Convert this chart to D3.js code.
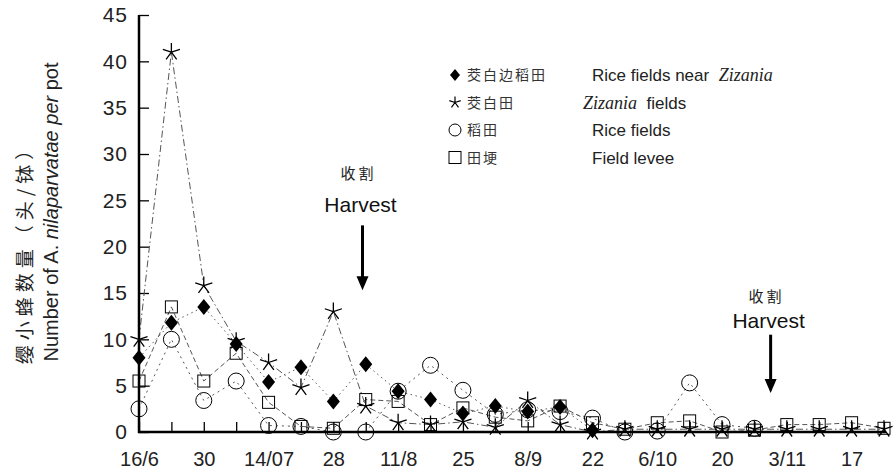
<!DOCTYPE html>
<html><head><meta charset="utf-8">
<script src="https://cdn.jsdelivr.net/npm/d3@7"></script>
<style>
body{margin:0;background:#fff;}
svg{display:block;}
</style></head>
<body>
<svg id="chart" width="894" height="475"></svg>
<script>
// ---- data ----
const dates = ["16/6","23/6","30/6","7/7","14/7","21/7","28/7","4/8","11/8","18/8","25/8","1/9","8/9","15/9","22/9","29/9","6/10","13/10","20/10","27/10","3/11","10/11","17/11","24/11"];
const tickLabels = ["16/6","","30","","14/07","","28","","11/8","","25","","8/9","","22","","6/10","","20","","3/11","","17",""];
const yTicks = [0,5,10,15,20,25,30,35,40,45];
const zizaniaFields = [10,41,15.8,9.8,7.5,4.8,13,2.8,1,0.8,1.1,0.5,3.4,0.8,0,0.3,0.3,0.3,0.3,0.3,0.3,0.3,0.3,0.3];
const nearZizania = [8,11.8,13.5,9.5,5.4,7,3.3,7.3,4.4,3.5,2,2.8,2.2,2.7,0.2,null,null,null,null,null,null,null,null,null];
const riceFields = [2.5,10,3.4,5.5,0.7,0.6,0,0,4.4,7.2,4.5,1.9,2.4,2.2,1.5,0,0.1,5.3,0.8,0.4,null,null,null,null];
const fieldLevee = [5.5,13.5,5.5,8.5,3.2,0.6,0.4,3.5,3.3,0.8,2.6,1.6,1.2,2.8,1.0,0.3,1.0,1.2,0,0.2,0.8,0.8,1.0,0.4];
const harvests = [{pos:6.9, top:22.3, bottom:15.3}, {pos:19.5, top:10.5, bottom:4.2}];
const harvestTextGap = [{cn:46, en:13}, {cn:33, en:7}];

const svg = d3.select("#chart");
const x = d3.scaleLinear().domain([0, dates.length-1]).range([139, 884]);
const y = d3.scaleLinear().domain([0, 45]).range([432, 15]);

// ---- markers ----
function drawMarker(g, type, cx, cy){
  if(type==="diamond"){
    g.append("path").attr("d",`M${cx},${cy-8}L${cx+6.5},${cy}L${cx},${cy+8}L${cx-6.5},${cy}Z`).attr("fill","#000");
  } else if(type==="star"){
    const r=9; let d="";
    for(let k=0;k<5;k++){const a=(-90+72*k)*Math.PI/180; d+=`M${cx},${cy}L${cx+r*Math.cos(a)},${cy+r*Math.sin(a)}`;}
    g.append("path").attr("d",d).attr("stroke","#000").attr("stroke-width",1.3).attr("fill","none");
  } else if(type==="circle"){
    g.append("circle").attr("cx",cx).attr("cy",cy).attr("r",8).attr("fill","none").attr("stroke","#000").attr("stroke-width",1);
  } else if(type==="square"){
    g.append("rect").attr("x",cx-6).attr("y",cy-6).attr("width",12).attr("height",12).attr("fill","none").attr("stroke","#000").attr("stroke-width",1);
  }
}

const series = [
  {name:"levee", data:fieldLevee, marker:"square", dash:"5,3"},
  {name:"rice", data:riceFields, marker:"circle", dash:"2,4"},
  {name:"near", data:nearZizania, marker:"diamond", dash:"1.5,3.5"},
  {name:"zizania", data:zizaniaFields, marker:"star", dash:"7,3,1.5,3"}
];

// axes
const yAxis = d3.axisLeft(y).tickValues(yTicks).tickSizeInner(-10).tickSizeOuter(0).tickPadding(11);
const gy = svg.append("g").attr("transform","translate(139,0)").call(yAxis);
gy.select(".domain").remove();
gy.selectAll("line").attr("stroke","#000").attr("stroke-width",1.3);
gy.selectAll("text").attr("font-family","Arial, 'Liberation Sans', sans-serif").attr("font-size",21).attr("letter-spacing",1).attr("fill","#222");

const xAxis = d3.axisBottom(x).tickValues(d3.range(dates.length)).tickFormat(i=>tickLabels[i]).tickSizeInner(-10).tickSizeOuter(0).tickPadding(20);
const gx = svg.append("g").attr("transform","translate(0,432)").call(xAxis);
gx.select(".domain").remove();
gx.selectAll("line").attr("stroke","#000").attr("stroke-width",1.3);
gx.selectAll("text").attr("font-family","Arial, 'Liberation Sans', sans-serif").attr("font-size",20).attr("fill","#222");

// lines
const line = d3.line().defined(d=>d.v!=null).x(d=>x(d.i)).y(d=>y(d.v));
series.forEach(s=>{
  svg.append("path").datum(s.data.map((v,i)=>({i,v})))
    .attr("d",line).attr("fill","none").attr("stroke","#555").attr("stroke-width",1).attr("stroke-dasharray",s.dash);
});
series.forEach(s=>{
  const g = svg.append("g");
  s.data.forEach((v,i)=>{ if(v!=null) drawMarker(g, s.marker, x(i), y(v)); });
});

// axis lines
svg.append("line").attr("x1",139).attr("x2",139).attr("y1",y(45)).attr("y2",y(0)+1).attr("stroke","#000").attr("stroke-width",2.5);
svg.append("line").attr("x1",138).attr("x2",x(dates.length-1)+2).attr("y1",y(0)).attr("y2",y(0)).attr("stroke","#000").attr("stroke-width",2.5);

// y labels
svg.append("text").attr("transform","translate(32,250) rotate(-90)").attr("text-anchor","middle")
  .attr("font-family","'Noto Sans CJK SC', sans-serif").attr("font-size",19).attr("letter-spacing",5).attr("fill","#222")
  .text("缨小蜂数量（头/钵）");
const yl = svg.append("text").attr("transform","translate(58,212) rotate(-90)").attr("text-anchor","middle")
  .attr("font-family","Arial, 'Liberation Sans', sans-serif").attr("font-size",20).attr("fill","#222");
yl.append("tspan").text("Number of A. ");
yl.append("tspan").attr("font-style","italic").text("nilaparvatae per");
yl.append("tspan").text(" pot");

// harvest annotations
harvests.forEach((h,k)=>{
  const hx = x(h.pos);
  svg.append("text").attr("x",hx-4).attr("y",y(h.top)-harvestTextGap[k].cn).attr("text-anchor","middle")
    .attr("font-family","'Noto Sans CJK SC', serif").attr("font-size",15).attr("letter-spacing",3).attr("fill","#222").text("收割");
  svg.append("text").attr("x",hx-2).attr("y",y(h.top)-harvestTextGap[k].en).attr("text-anchor","middle")
    .attr("font-family","Arial, 'Liberation Sans', sans-serif").attr("font-size",21).attr("fill","#111").text("Harvest");
  svg.append("line").attr("x1",hx).attr("x2",hx).attr("y1",y(h.top)).attr("y2",y(h.bottom)-10).attr("stroke","#000").attr("stroke-width",3);
  svg.append("path").attr("d",`M${hx-6},${y(h.bottom)-14}L${hx+6},${y(h.bottom)-14}L${hx},${y(h.bottom)}Z`).attr("fill","#000");
});

// legend
const legend = [
  {marker:"diamond", cn:"茭白边稻田", en:[["Rice fields near  ",false],["Zizania",true]]},
  {marker:"star", cn:"茭白田", en:[["Zizania",true],["  fields",false]]},
  {marker:"circle", cn:"稻田", en:[["Rice fields",false]]},
  {marker:"square", cn:"田埂", en:[["Field levee",false]]}
];
legend.forEach((l,k)=>{
  const ly = 75 + k*27.5;
  const g = svg.append("g");
  if(l.marker==="circle"){ g.append("circle").attr("cx",455).attr("cy",ly).attr("r",6).attr("fill","none").attr("stroke","#000"); }
  else if(l.marker==="square"){ g.append("rect").attr("x",449).attr("y",ly-6).attr("width",12).attr("height",12).attr("fill","none").attr("stroke","#000"); }
  else if(l.marker==="diamond"){ g.append("path").attr("d",`M455,${ly-6}L460,${ly}L455,${ly+6}L450,${ly}Z`).attr("fill","#000"); }
  else { const r=6; let d=""; for(let j=0;j<5;j++){const a=(-90+72*j)*Math.PI/180; d+=`M455,${ly}L${455+r*Math.cos(a)},${ly+r*Math.sin(a)}`;} g.append("path").attr("d",d).attr("stroke","#000").attr("stroke-width",1.2); }
  svg.append("text").attr("x",467).attr("y",ly+5).attr("font-family","'Noto Sans CJK SC', serif").attr("font-size",14).attr("letter-spacing",2).attr("fill","#333").text(l.cn);
  const t = svg.append("text").attr("x", k===1?583:592).attr("y",ly+6).attr("fill","#222").attr("xml:space","preserve");
  l.en.forEach(([s,it])=>{
    t.append("tspan").attr("font-family", it?"'Liberation Serif', 'Times New Roman', serif":"Arial, 'Liberation Sans', sans-serif")
     .attr("font-style", it?"italic":"normal").attr("font-size", it?18:17).text(s);
  });
});
</script>
</body></html>
